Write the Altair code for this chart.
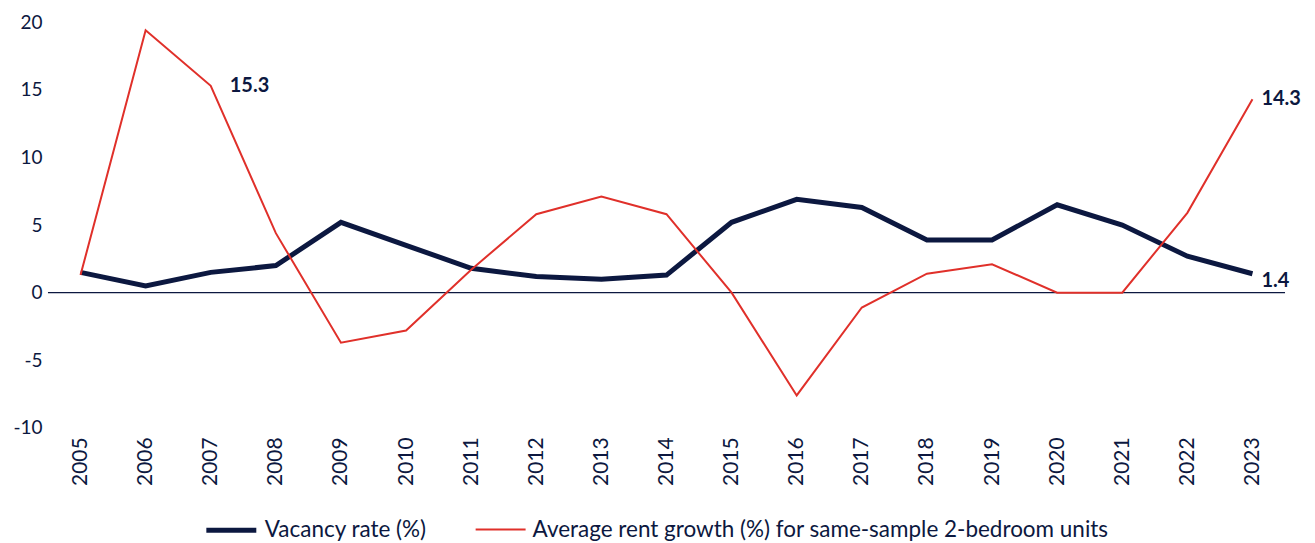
import altair as alt
import pandas as pd

years = [str(y) for y in range(2005, 2024)]
vacancy = [1.5, 0.5, 1.5, 2.0, 5.2, 3.5, 1.8, 1.2, 1.0, 1.3, 5.2, 6.9, 6.3, 3.9, 3.9, 6.5, 5.0, 2.7, 1.4]
rent = [1.3, 19.4, 15.3, 4.4, -3.7, -2.8, 1.7, 5.8, 7.1, 5.8, 0.0, -7.6, -1.1, 1.4, 2.1, 0.0, 0.0, 5.9, 14.3]
series_names = ["Vacancy rate (%)", "Average rent growth (%) for same-sample 2-bedroom units"]
label_years_a = ["2007"]
label_vals_a = [15.3]
label_years_b = ["2023"]
label_vals_b = [14.3]
label_years_c = ["2023"]
label_vals_c = [1.4]

NAVY = "#0c1840"
RED = "#e0302a"
FONT = "Lato"

df = pd.DataFrame({
    "year": years * 2,
    "value": vacancy + rent,
    "series": [series_names[0]] * len(years) + [series_names[1]] * len(years),
})

xscale = alt.Scale(type="point", padding=0.5)
yscale = alt.Scale(domain=[-10, 20], nice=False, zero=False)
yaxis = alt.Axis(values=[-10, -5, 0, 5, 10, 15, 20], labelFontSize=19, labelColor=NAVY,
                 labelFont=FONT, domain=False, ticks=False, grid=False, labelPadding=6,
                 labelExpr="toString(datum.value)")

x = alt.X("year:O", title=None, scale=xscale,
          axis=alt.Axis(labelAngle=-90, labelFontSize=21, labelColor=NAVY, labelFont=FONT,
                        domain=False, ticks=False, labelPadding=9, grid=False))
y = alt.Y("value:Q", title=None, scale=yscale, axis=yaxis)

leg = alt.Legend(orient="none", legendX=156, legendY=481, direction="horizontal",
                 symbolType="stroke", symbolSize=2500, labelFontSize=22.5,
                 labelColor=NAVY, labelFont=FONT, columnPadding=44,
                 labelOffset=6, labelLimit=900)
color = alt.Color("series:N", title=None,
                  scale=alt.Scale(domain=series_names, range=[NAVY, RED]), legend=leg)
sw = alt.StrokeWidth("series:N", title=None,
                     scale=alt.Scale(domain=series_names, range=[5, 2]), legend=leg)

base = alt.Chart(df)

vac_line = base.transform_filter(alt.datum.series == series_names[0]).mark_line(
    strokeJoin="miter").encode(x=x, y=y, color=color, strokeWidth=sw)
rent_line = base.transform_filter(alt.datum.series == series_names[1]).mark_line(
    strokeJoin="miter").encode(x=x, y=y, color=color, strokeWidth=sw)

zero = alt.Chart(pd.DataFrame({"z": [0]})).mark_rule(color=NAVY, strokeWidth=1.3).encode(
    y=alt.Y("z:Q", scale=yscale, title=None, axis=yaxis))

def label_layer(yrs, vals, dx, dy):
    d = pd.DataFrame({"year": yrs, "value": vals, "txt": [f"{v:.1f}" for v in vals]})
    return alt.Chart(d).mark_text(align="left", baseline="middle", dx=dx, dy=dy, fontSize=20,
                                  fontWeight="bold", font=FONT, color=NAVY).encode(
        x=alt.X("year:O", scale=xscale, title=None),
        y=alt.Y("value:Q", scale=yscale, title=None),
        text="txt:N")

labels = (label_layer(label_years_a, label_vals_a, 19, 0)
          + label_layer(label_years_b, label_vals_b, 9, 0)
          + label_layer(label_years_c, label_vals_c, 9, 7))

chart = alt.layer(zero, vac_line, rent_line, labels).properties(
    width=1238, height=406,
    autosize=alt.AutoSizeParams(type="none"),
    padding={"left": 40, "top": 14, "right": 22, "bottom": 115},
).configure(font=FONT, view=alt.ViewConfig(stroke="transparent", strokeWidth=0))

chart.save("out.html", embed_options={"renderer": "svg", "actions": False})
